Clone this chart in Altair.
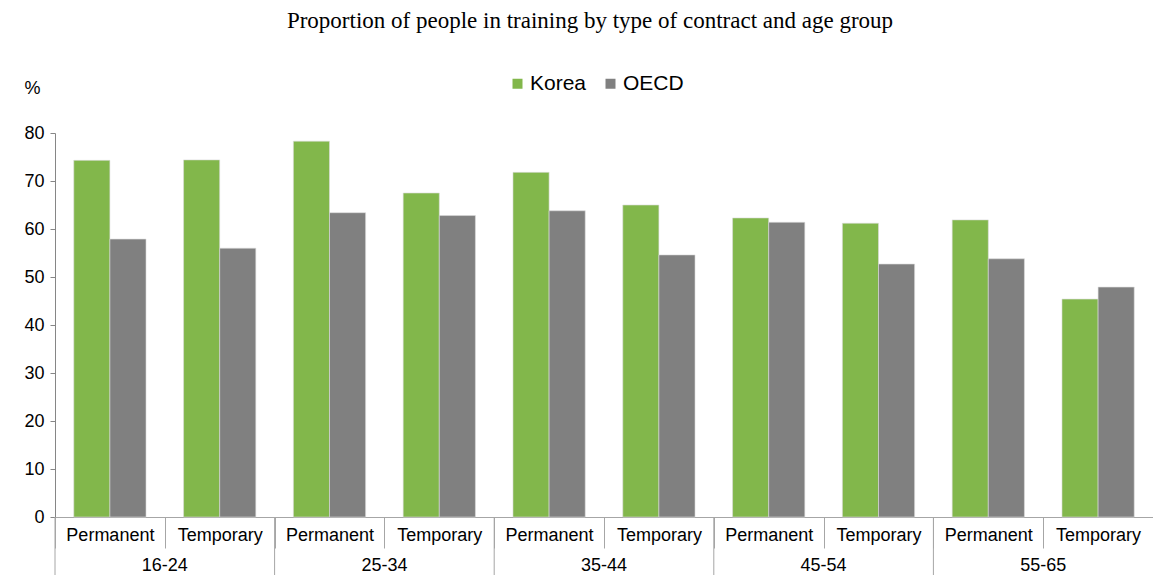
import altair as alt
import pandas as pd

groups = ["16-24", "25-34", "35-44", "45-54", "55-65"]
contracts = ["Permanent", "Temporary"]
series = ["Korea", "OECD"]
korea = [74.3, 74.4, 78.3, 67.5, 71.8, 65.0, 62.3, 61.2, 61.9, 45.4]
oecd = [57.9, 56.0, 63.4, 62.8, 63.8, 54.6, 61.4, 52.7, 53.8, 47.9]
colors = ["#82B74B", "#808080"]

cats = [f"{g}|{c}" for g in groups for c in contracts]

rows = []
for i, cat in enumerate(cats):
    rows.append({"cat": cat, "series": "Korea", "value": korea[i]})
    rows.append({"cat": cat, "series": "OECD", "value": oecd[i]})
df = pd.DataFrame(rows)

gdf = pd.DataFrame({"cat": [f"{g}|Permanent" for g in groups], "group": groups})

W, H = 1098, 384
FONT = "Liberation Sans"

xscale = alt.Scale(domain=cats, paddingInner=0, paddingOuter=0)

bars = alt.Chart(df).mark_bar(stroke="#dcdcdc", strokeWidth=0.6).encode(
    x=alt.X("cat:N", scale=xscale, sort=cats,
            axis=alt.Axis(title=None, labelExpr="split(datum.value, '|')[1]",
                          labelAngle=0, tickBand="extent", tickSize=31,
                          tickColor="#a6a6a6", domainColor="#a6a6a6",
                          labelFont=FONT, labelFontSize=18, labelColor="#000",
                          labelPadding=-13, labelBaseline="middle")),
    xOffset=alt.XOffset("series:N", sort=series,
                        scale=alt.Scale(paddingOuter=0.52, paddingInner=0)),
    y=alt.Y("value:Q", scale=alt.Scale(domain=[0, 80]),
            axis=alt.Axis(title="%", titleAngle=0, titleX=-23, titleY=-36,
                          titleFont=FONT, titleFontSize=18, titleFontWeight="normal",
                          titleColor="#000", values=[0, 10, 20, 30, 40, 50, 60, 70, 80],
                          labelFont=FONT, labelFontSize=18, labelColor="#000",
                          tickSize=5, tickColor="#868686", domainColor="#868686",
                          grid=False, labelPadding=6)),
    color=alt.Color("series:N", sort=series,
                    scale=alt.Scale(domain=series, range=colors),
                    legend=alt.Legend(title=None, orient="none", legendX=452, legendY=-60,
                                      direction="horizontal", symbolType="square",
                                      symbolSize=100, symbolStrokeWidth=0,
                                      labelFont=FONT, labelFontSize=21, labelColor="#000",
                                      labelOffset=2, columnPadding=13)),
)

seps = alt.Chart(gdf).mark_rule(color="#a6a6a6", strokeWidth=1).encode(
    x=alt.X("cat:N", sort=cats, bandPosition=0),
    y=alt.value(H),
    y2=alt.value(H + 58),
)

glabels = alt.Chart(gdf).mark_text(font=FONT, fontSize=18, color="#000",
                                   baseline="middle").encode(
    x=alt.X("cat:N", sort=cats, bandPosition=1),
    y=alt.value(H + 49),
    text="group:N",
)

chart = alt.layer(bars, seps, glabels).properties(
    width=W, height=H,
    autosize="none",
    padding={"left": 47, "top": 125, "right": 0, "bottom": 58},
    title=alt.TitleParams("Proportion of people in training by type of contract and age group",
                          font="Liberation Serif", fontSize=23, fontWeight="normal",
                          color="#000", anchor="middle", offset=40, dx=-14),
).configure_view(stroke=None)

chart.save("out.html", embed_options={"renderer": "svg", "actions": False})
